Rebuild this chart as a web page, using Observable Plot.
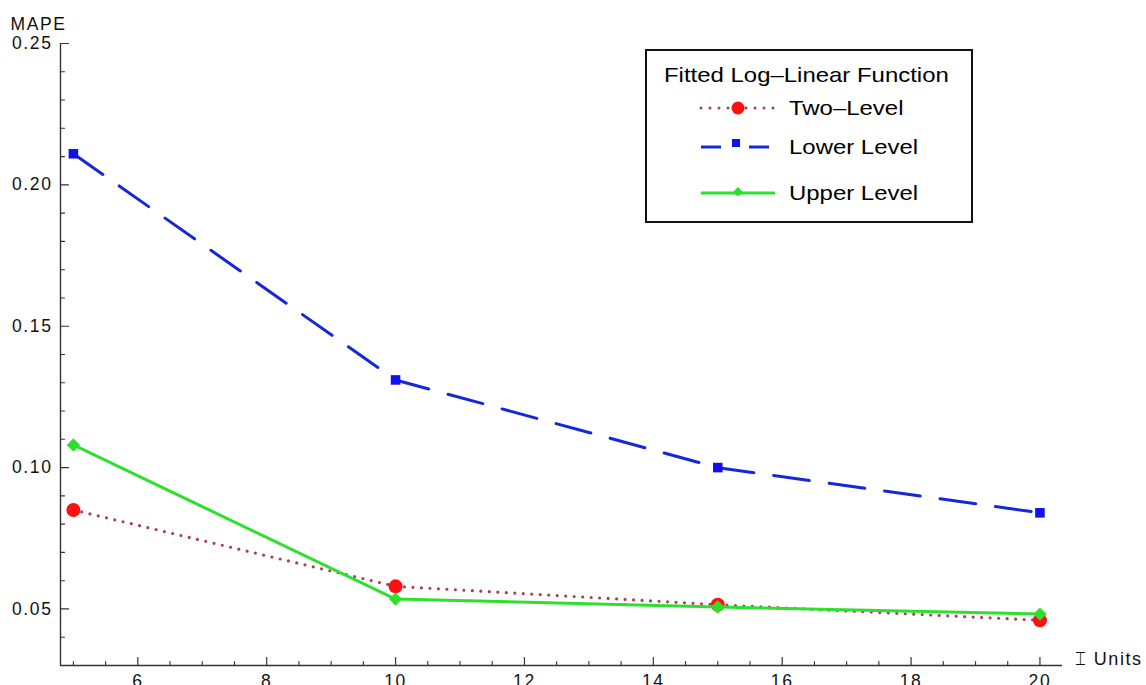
<!DOCTYPE html>
<html>
<head>
<meta charset="utf-8">
<script src="https://cdn.jsdelivr.net/npm/d3@7"></script>
<script src="https://cdn.jsdelivr.net/npm/@observablehq/plot@0.6"></script>
<style>
  html, body { margin: 0; padding: 0; background: #fff; }
  #wrap { position: relative; width: 1146px; height: 685px; overflow: hidden; font-family: "Liberation Sans", Arial, sans-serif; }
  #wrap svg text { letter-spacing: 1.6px; }
  #legend { position: absolute; left: 645px; top: 49px; width: 324px; height: 170px; border: 2px solid #111; background: #fff; box-sizing: content-box; }
  #legend .title { position: absolute; left: 17px; top: 12px; font-size: 21px; color: #000; white-space: nowrap; transform: scaleX(1.14); transform-origin: 0 50%; }
  #legend .row { position: absolute; left: 52px; height: 24px; display: flex; align-items: center; }
  #legend .row span { margin-left: 12px; font-size: 21px; color: #000; white-space: nowrap; transform: scaleX(1.14); transform-origin: 0 50%; }
</style>
</head>
<body>
<div id="wrap"></div>
<script>
// ---- data ----
const units = [5, 10, 15, 20];
const twoLevel = [0.085, 0.058, 0.0515, 0.046];
const lowerLevel = [0.211, 0.131, 0.100, 0.084];
const upperLevel = [0.108, 0.0535, 0.0507, 0.0482];
const seriesNames = ["Two\u2013Level", "Lower Level", "Upper Level"];
const legendTitle = "Fitted Log\u2013Linear Function";
const yLabel = "MAPE";
const xLabel = "\u2336 Units";
const xMajorTicks = [6, 8, 10, 12, 14, 16, 18, 20];
const xMinorTicks = d3.range(5, 20.01, 0.5).filter(v => v % 2 !== 0);
const yMajorTicks = [0.05, 0.10, 0.15, 0.20, 0.25];
const yMinorTicks = [0.03, 0.04, 0.06, 0.07, 0.08, 0.09, 0.11, 0.12, 0.13, 0.14, 0.16, 0.17, 0.18, 0.19, 0.21, 0.22, 0.23, 0.24];

const colors = { two: "#a8405a", twoDot: "#ff1010", lower: "#1428d8", lowerDot: "#1010f0", upper: "#2ee02e" };

const rows = (vals) => units.map((u, i) => ({ x: u, y: vals[i] }));
const dTwo = rows(twoLevel), dLow = rows(lowerLevel), dUp = rows(upperLevel);

const xDomain = [4.8, 20.35];
const yDomain = [0.03, 0.25];
const axisColor = "#333";
const tickShape = { draw(context, l) { context.moveTo(0, 0); context.lineTo(0, -l); } };

const chart = Plot.plot({
  width: 1146,
  height: 685,
  marginLeft: 60,
  marginRight: 84,
  marginTop: 43,
  marginBottom: 20,
  style: { fontFamily: "Liberation Sans, Arial, sans-serif", fontSize: "17px", color: "#111", background: "#fff", overflow: "visible" },
  x: { domain: xDomain, axis: null },
  y: { domain: yDomain, axis: null },
  marks: [
    // axis lines
    Plot.ruleX([xDomain[0]], { y1: yDomain[0], y2: yDomain[1], stroke: axisColor, strokeWidth: 1.4 }),
    Plot.ruleY([yDomain[0]], { x1: xDomain[0], x2: xDomain[1], stroke: axisColor, strokeWidth: 1.4 }),
    // x ticks (inward)
    Plot.vector(xMajorTicks, { x: d => d, frameAnchor: "bottom", length: 8, rotate: 0, anchor: "start", shape: tickShape, stroke: axisColor, strokeWidth: 1.2 }),
    Plot.vector(xMinorTicks, { x: d => d, frameAnchor: "bottom", length: 4, rotate: 0, anchor: "start", shape: tickShape, stroke: axisColor, strokeWidth: 1.1 }),
    // y ticks (inward)
    Plot.vector(yMajorTicks, { y: d => d, frameAnchor: "left", length: 8, rotate: 90, anchor: "start", shape: tickShape, stroke: axisColor, strokeWidth: 1.2 }),
    Plot.vector(yMinorTicks, { y: d => d, frameAnchor: "left", length: 4, rotate: 90, anchor: "start", shape: tickShape, stroke: axisColor, strokeWidth: 1.1 }),
    // tick labels
    Plot.axisX(xMajorTicks, { anchor: "bottom", label: null, tickSize: 0, tickPadding: 9, tickFormat: d3.format("d"), fontSize: 17.5, fill: "#111" }),
    Plot.axisY(yMajorTicks, { anchor: "left", label: null, tickSize: 0, tickPadding: 8, tickFormat: d3.format(".2f"), fontSize: 17.5, fill: "#111" }),
    // axis labels
    Plot.text([yLabel], { frameAnchor: "top-left", dx: -50, dy: -26, textAnchor: "start", fontSize: 17.5, fill: "#111" }),
    Plot.text([xLabel], { frameAnchor: "bottom-right", dx: 12, dy: -1, textAnchor: "start", fontSize: 18, fill: "#111" }),
    // series: Two-Level
    Plot.line(dTwo, { x: "x", y: "y", stroke: colors.two, strokeWidth: 3.2, strokeDasharray: "0,8.5", strokeLinecap: "round" }),
    Plot.dot(dTwo, { x: "x", y: "y", r: 7, fill: colors.twoDot, symbol: "circle" }),
    // Lower Level
    Plot.line(dLow, { x: "x", y: "y", stroke: colors.lower, strokeWidth: 3, strokeDasharray: "36,20" }),
    Plot.dot(dLow, { x: "x", y: "y", r: 5.4, fill: colors.lowerDot, symbol: "square" }),
    // Upper Level
    Plot.line(dUp, { x: "x", y: "y", stroke: colors.upper, strokeWidth: 3 }),
    Plot.dot(dUp, { x: "x", y: "y", r: 6, fill: colors.upper, symbol: "diamond2" })
  ]
});

const wrap = document.getElementById("wrap");
wrap.appendChild(chart);

// legend
const legend = document.createElement("div");
legend.id = "legend";
legend.innerHTML = `<div class="title">${legendTitle}</div>`;
const swatches = [
  `<svg width="78" height="24"><line x1="2" y1="12" x2="76" y2="12" stroke="${colors.two}" stroke-width="3" stroke-dasharray="0,9" stroke-linecap="round"/><circle cx="39" cy="12" r="6.5" fill="${colors.twoDot}"/></svg>`,
  `<svg width="78" height="24"><line x1="2" y1="12" x2="22" y2="12" stroke="${colors.lower}" stroke-width="3"/><line x1="50" y1="12" x2="70" y2="12" stroke="${colors.lower}" stroke-width="3"/><rect x="33" y="4" width="8" height="8" fill="${colors.lowerDot}"/></svg>`,
  `<svg width="78" height="24"><line x1="2" y1="12" x2="76" y2="12" stroke="${colors.upper}" stroke-width="3"/><path d="M39,6 L45,12 L39,15 L33,12 Z" fill="${colors.upper}"/></svg>`
];
const rowTops = [45, 84, 130];
seriesNames.forEach((name, i) => {
  const r = document.createElement("div");
  r.className = "row";
  r.style.top = rowTops[i] + "px";
  r.innerHTML = swatches[i] + `<span>${name}</span>`;
  legend.appendChild(r);
});
wrap.appendChild(legend);
</script>
</body>
</html>
